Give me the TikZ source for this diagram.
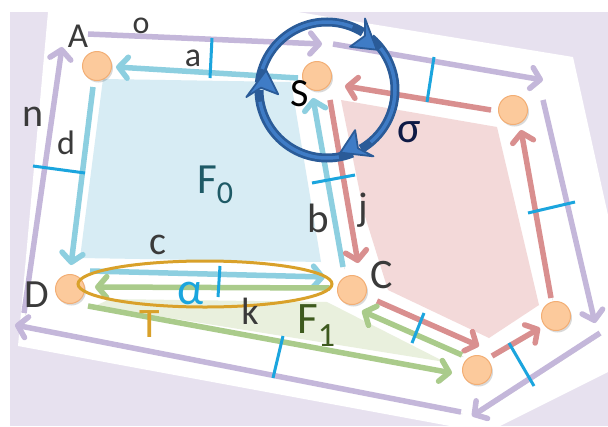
\documentclass[tikz,border=0pt]{standalone}
\usepackage{fontspec}
\setmainfont{Carlito}
\usetikzlibrary{arrows.meta,calc,shapes.geometric}
\definecolor{bgl}{HTML}{E7E1EF}
\definecolor{lav}{HTML}{C4B7DA}
\definecolor{fblue}{HTML}{D7ECF4}
\definecolor{ablue}{HTML}{8DCFE0}
\definecolor{fpink}{HTML}{F3D9D9}
\definecolor{ared}{HTML}{D98F8F}
\definecolor{fgreen}{HTML}{E9F0DD}
\definecolor{agreen}{HTML}{AACB8B}
\definecolor{tick}{HTML}{1BA5DE}
\definecolor{gold}{HTML}{D9A12A}
\definecolor{peach}{HTML}{FCCA9C}
\definecolor{peachd}{HTML}{F3AE74}
\definecolor{txt}{HTML}{3A3A3A}
\definecolor{navy}{HTML}{0E1A45}
\definecolor{teal0}{HTML}{1E5A66}
\definecolor{grn1}{HTML}{3E5A1E}
\definecolor{cblue}{HTML}{2A5B98}
\definecolor{cbluel}{HTML}{3F7CC6}
\newcommand\myfs[1]{\fontsize{#1}{#1}\selectfont}
\newcommand\chead[1]{\filldraw[headst] ($(cc)+(#1:64)$) -- ($(cc)+(#1-23:81)$) -- ($(cc)+(#1-16:66)$) -- ($(cc)+(#1-23:49)$) -- cycle;}
\begin{document}
\begin{tikzpicture}[x=1pt,y=-1pt,
 shad/.style={preaction={draw=black!70,opacity=0.2,transform canvas={shift={(1.5pt,-2pt)}}}},
 arr/.style={line width=5.5pt,shad,-{Straight Barb[length=9pt,width=21pt,round]}},
 lavarr/.style={arr,draw=lav},
 bluearr/.style={arr,draw=ablue},
 redarr/.style={arr,draw=ared},
 grnarr/.style={arr,draw=agreen},
 tk/.style={draw=tick,line width=3pt},
 vtx/.style={circle,fill=peach,draw=peachd,line width=1pt,minimum size=29pt,inner sep=0pt,
   preaction={fill=black,opacity=0.15,transform canvas={shift={(1.5pt,-2pt)}}}},
 lbl/.style={inner sep=0pt,text=txt},
 cband/.style={draw=cblue,line width=9pt},
 chl/.style={draw=cbluel,line width=3.5pt},
 headst/.style={fill=cbluel,draw=cblue,line width=1.8pt,line join=round},
]
% background
\fill[white] (0,0) rectangle (608,426);
\fill[bgl] (10,12) rectangle (608,426);
\fill[white] (48,12) -- (298,12) -- (573,57) -- (608,215) -- (608,372) -- (500,426) -- (450,426) -- (18,346) -- cycle;
\useasboundingbox (0,0) rectangle (608,426);
% faces
\fill[fblue] (103,79) -- (291,82) -- (321,262) -- (80,258) -- cycle;
\fill[fpink] (341,100) -- (497,127) -- (539,305) -- (489,338) -- (388,290) -- (364,213) -- cycle;
\fill[fgreen] (110,299) -- (327,302) -- (445,362) -- (95,306) -- cycle;
% coordinates
\coordinate (o1) at (88,34);   \coordinate (o2) at (322,44);
\coordinate (p1) at (333,44);  \coordinate (p2) at (543,80);
\coordinate (q1) at (543,100); \coordinate (q2) at (595,323);
\coordinate (r1) at (600,333); \coordinate (r2) at (472,416);
\coordinate (s1) at (461,412); \coordinate (s2) at (15,325);
\coordinate (n1) at (24,313);  \coordinate (n2) at (62,47);
\coordinate (a1) at (298,78);  \coordinate (a2) at (116,67);
\coordinate (d1) at (93,87);   \coordinate (d2) at (71,265);
\coordinate (c1) at (90,271);  \coordinate (c2) at (325,277);
\coordinate (b1) at (343,267); \coordinate (b2) at (313,98);
\coordinate (t1) at (491,110); \coordinate (t2) at (345,86);
\coordinate (j1) at (330,100); \coordinate (j2) at (358,263);
\coordinate (u1) at (377,301); \coordinate (u2) at (479,346);
\coordinate (v1) at (492,356); \coordinate (v2) at (540,328);
\coordinate (w1) at (551,298); \coordinate (w2) at (521,130);
\coordinate (g1) at (330,288); \coordinate (g2) at (95,287);
\coordinate (h1) at (88,306);  \coordinate (h2) at (452,373);
\coordinate (k1) at (462,355); \coordinate (k2) at (362,311);
% lavender boundary arrows
\draw[lavarr] (o1) -- (o2);
\draw[lavarr] (p1) -- (p2);
\draw[lavarr] (q1) -- (q2);
\draw[lavarr] (r1) -- (r2);
\draw[lavarr] (s1) -- (s2);
\draw[lavarr] (n1) -- (n2);
% blue face
\draw[bluearr] (a1) -- (a2);
\draw[bluearr] (d1) -- (d2);
\draw[bluearr] (c1) -- (c2);
\draw[bluearr] (b1) -- (b2);
% red face
\draw[redarr] (t1) -- (t2);
\draw[redarr] (j1) -- (j2);
\draw[redarr] (u1) -- (u2);
\draw[redarr] (v1) -- (v2);
\draw[redarr] (w1) -- (w2);
% green
\draw[grnarr] (g1) -- (g2);
\draw[grnarr] (h1) -- (h2);
\draw[grnarr] (k1) -- (k2);
% vertices
\node[vtx] (vA) at (97,66) {};
\node[vtx] (vS) at (317,76) {};
\node[vtx] (vR) at (513,110) {};
\node[vtx] (vD) at (70,289) {};
\node[vtx] (vC) at (352,290) {};
\node[vtx] (vB) at (477,370) {};
\node[vtx] (vE) at (556,316) {};
% ticks
\coordinate (ta1) at (212,38);  \coordinate (ta2) at (210,78);
\coordinate (td1) at (33,166);  \coordinate (td2) at (85,173);
\coordinate (tb1) at (312,183); \coordinate (tb2) at (355,175);
\coordinate (tt1) at (434,57);  \coordinate (tt2) at (427,102);
\coordinate (tr1) at (528,213); \coordinate (tr2) at (575,202);
\coordinate (tc1) at (220,266); \coordinate (tc2) at (218,297);
\coordinate (tu1) at (424,313); \coordinate (tu2) at (412,343);
\coordinate (ts1) at (283,336); \coordinate (ts2) at (273,378);
\coordinate (tv1) at (509,343); \coordinate (tv2) at (534,386);
\draw[tk] (ta1) -- (ta2);
\draw[tk] (td1) -- (td2);
\draw[tk] (tb1) -- (tb2);
\draw[tk] (tt1) -- (tt2);
\draw[tk] (tr1) -- (tr2);
\draw[tk] (tc1) -- (tc2);
\draw[tk] (tu1) -- (tu2);
\draw[tk] (ts1) -- (ts2);
\draw[tk] (tv1) -- (tv2);
% ellipse
\node[draw=gold,line width=3pt,ellipse,minimum width=254pt,minimum height=46pt,inner sep=0pt] (ell) at (205,284) {};
% labels
\node[lbl,font=\myfs{35}] (lA) at (78,36) {A};
\node[lbl,font=\myfs{32}] (lo) at (141,26) {o};
\node[lbl,font=\myfs{34}] (la) at (193,58) {a};
\node[lbl,font=\myfs{40}] (ln) at (33,117) {n};
\node[lbl,font=\myfs{34}] (ld) at (66,143) {d};
\node[lbl,font=\myfs{40},text=black] (lS) at (300,94) {S};
\node[lbl,font=\myfs{44},text=navy] (lsig) at (409,132) {σ};
\node[lbl,font=\myfs{41}] (lb) at (318,218) {b};
\node[lbl,font=\myfs{40}] (lj) at (363,210) {j};
\node[lbl,font=\myfs{40}] (lc) at (158,245) {c};
\node[lbl,font=\myfs{40}] (lD) at (37,295) {D};
\node[lbl,font=\myfs{42}] (lC) at (382,275) {C};
\node[lbl,font=\myfs{46},text=tick] (lal) at (191,293) {α};
\node[lbl,font=\myfs{42},text=gold] (lT) at (150,324) {T};
\node[lbl,font=\myfs{38}] (lk) at (250,311) {k};
\node[lbl,font=\myfs{43},text=teal0,anchor=base west] (lF0) at (197,193) {F\raisebox{-10pt}{\myfs{32}0}};
\node[lbl,font=\myfs{45},text=grn1,anchor=base west] (lF1) at (297,333) {F\raisebox{-13pt}{\myfs{34}1}};
% circulation arrows around S
\coordinate (cc) at (327,90);
\draw[cband] (cc) ++(186:68) arc[start angle=186,end angle=302,radius=68];
\draw[cband] (cc) ++(310:68) arc[start angle=310,end angle=420,radius=68];
\draw[cband] (cc) ++(68:68) arc[start angle=68,end angle=180,radius=68];
\draw[chl] (cc) ++(198:68) arc[start angle=198,end angle=292,radius=68];
\draw[chl] (cc) ++(322:68) arc[start angle=322,end angle=410,radius=68];
\draw[chl] (cc) ++(80:68) arc[start angle=80,end angle=170,radius=68];
\chead{321}
\chead{438}
\chead{198}
\end{tikzpicture}
\end{document}
